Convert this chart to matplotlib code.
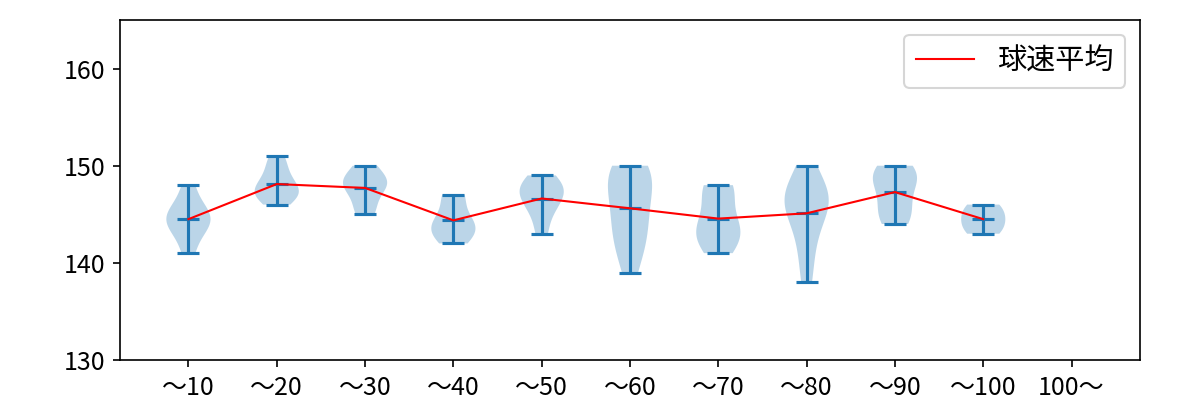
import matplotlib
matplotlib.use("Agg")
import matplotlib.pyplot as plt
import numpy as np

plt.rcParams['font.family'] = ['Noto Sans CJK JP', 'DejaVu Sans']

labels = ["～10", "～20", "～30", "～40", "～50", "～60", "～70", "～80", "～90", "～100", "100～"]

# pitch speeds (km/h) per pitch-count bin
speeds = [
    [141, 143, 144, 144, 145, 145, 146, 148],
    [146, 147, 147, 147, 148, 148, 149, 150, 151],
    [145, 146, 148, 148, 148, 149, 150],
    [142, 143, 143, 144, 144, 145, 147, 147],
    [143, 145, 146, 147, 147, 148, 148, 149],
    [139, 141, 142, 143, 144, 145, 146, 147, 148, 149, 149, 150, 150],
    [141, 142, 143, 143, 144, 145, 147, 148, 148],
    [138, 141, 143, 145, 146, 146, 147, 147, 148, 150],
    [144, 145, 146, 148, 149, 149, 150],
    [143, 144, 145, 146],
]

positions = np.arange(1, len(speeds) + 1)
means = [np.mean(s) for s in speeds]

fig, ax = plt.subplots(figsize=(8, 8 / 3), dpi=150)
fig.subplots_adjust(left=0.1, right=0.95, bottom=0.1, top=0.95)

ax.violinplot(speeds, positions=positions, showmeans=True, showextrema=True)
ax.plot(positions, means, color="red", linewidth=1, label="球速平均")

ax.set_xticks(np.arange(1, len(labels) + 1))
ax.set_xticklabels(labels)
ax.set_xlim(0.225, 11.775)
ax.set_ylim(130, 165)
ax.set_yticks([130, 140, 150, 160])
ax.tick_params(labelsize=12)
ax.legend(loc="upper right", fontsize=14)

plt.savefig("out.png")
